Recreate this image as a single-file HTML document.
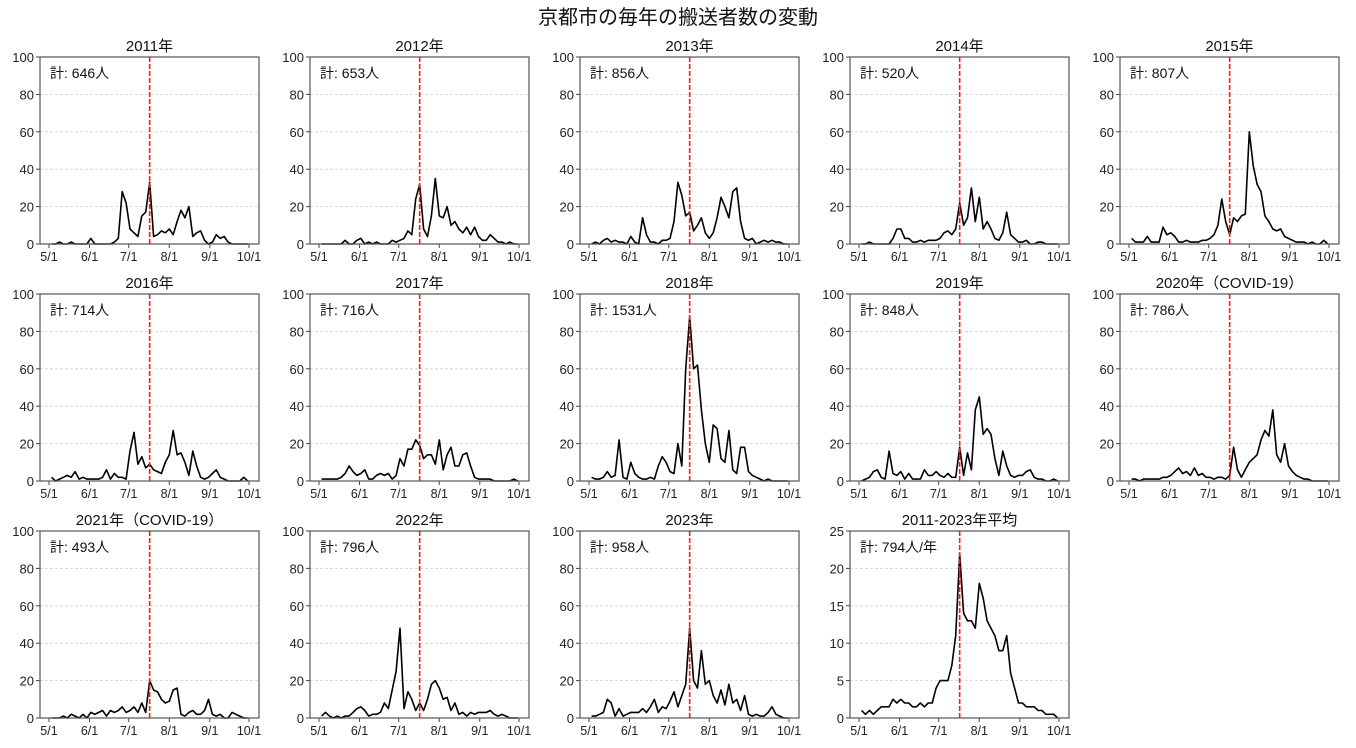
<!DOCTYPE html>
<html><head><meta charset="utf-8">
<style>
body{margin:0;background:#fff;}
svg{display:block;font-family:"Liberation Sans","Noto Sans CJK JP",sans-serif;}
</style></head>
<body>
<svg id="fig" width="1356" height="748" viewBox="0 0 1356 748" xmlns="http://www.w3.org/2000/svg">
<text x="678" y="24" font-size="20" text-anchor="middle" fill="#111">京都市の毎年の搬送者数の変動</text>
</svg>
<script>
// samples at day 2,5,8,...,152 (day 0 = May 1)
const sampleStart = 2, sampleStep = 3;
const titles = ["2011年","2012年","2013年","2014年","2015年","2016年","2017年","2018年","2019年","2020年（COVID-19）","2021年（COVID-19）","2022年","2023年","2011-2023年平均"];
const totals = ["計: 646人","計: 653人","計: 856人","計: 520人","計: 807人","計: 714人","計: 716人","計: 1531人","計: 848人","計: 786人","計: 493人","計: 796人","計: 958人","計: 794人/年"];
const yMaxes = [100,100,100,100,100,100,100,100,100,100,100,100,100,25];
const yTicks100 = [0,20,40,60,80,100];
const yTicks25 = [0,5,10,15,20,25];
const xTickDays = [0,31,61,92,123,153];
const xTickLabels = ["5/1","6/1","7/1","8/1","9/1","10/1"];
const markerDay = 77;
const s2011 = [0,0,1,0,0,1,0,0,0,0, 3,0,0,0,0,0,1,3,28,22, 8,6,4,15,17,33,4,5,7,6, 8,5,12,18,14,20,4,6,7,2, 0,1,5,3,4,1,0,0,0,0,0];
const s2012 = [0,0,0,0,0,0,2,0,0,2, 3,0,1,0,1,0,0,0,2,1, 2,3,7,5,24,32,8,4,15,35, 15,14,20,10,12,8,6,9,5,9, 4,2,2,5,3,1,1,0,1,0,0];
const s2013 = [0,1,0,2,3,1,2,1,1,0, 4,1,0,14,5,1,1,0,2,2, 3,12,33,26,15,17,7,10,14,6, 3,6,14,25,20,14,28,30,12,3, 2,3,0,1,2,1,2,1,1,0,0];
const s2014 = [0,0,1,0,0,0,0,0,3,8, 8,3,3,1,1,2,1,2,2,2, 3,6,7,5,8,22,10,14,30,12, 25,8,12,8,3,2,6,17,5,3, 1,1,2,0,0,1,1,0,0,0,0];
const s2015 = [3,1,1,1,4,1,1,1,9,5, 6,4,1,1,2,1,1,1,2,2, 3,5,10,24,12,5,14,12,15,16, 60,42,32,28,15,12,8,7,8,4, 3,2,1,1,1,0,1,0,0,2,0];
const s2016 = [2,0,1,2,3,2,5,1,2,1, 1,1,1,2,6,1,4,2,2,1, 16,26,9,13,7,9,6,5,4,10, 14,27,14,15,10,3,16,8,2,1, 2,4,6,2,1,0,0,0,0,2,0];
const s2017 = [1,1,1,1,1,2,4,8,5,3, 4,6,1,1,3,4,3,4,1,3, 12,8,17,17,22,19,12,14,14,9, 22,6,14,18,8,8,14,15,8,2, 1,1,1,1,0,0,0,0,0,1,0];
const s2018 = [2,1,1,2,5,2,3,22,2,1, 10,4,2,1,1,2,1,8,13,10, 5,4,20,8,60,88,60,62,38,20, 10,30,28,12,10,27,6,4,18,18, 5,3,2,1,0,1,0,0,0,0,0];
const s2019 = [0,1,2,5,6,2,1,16,4,3, 5,1,4,1,1,1,6,3,3,5, 3,2,4,2,2,18,3,15,6,38, 45,25,28,25,12,3,16,8,3,2, 3,3,5,6,2,1,1,0,0,1,0];
const s2020 = [1,1,0,1,1,1,1,1,2,2, 3,5,7,4,5,3,7,3,4,2, 2,1,2,2,1,3,18,6,2,6, 10,12,14,22,27,24,38,14,10,20, 8,5,3,2,1,1,0,0,0,0,0];
const s2021 = [0,0,0,1,0,2,1,0,2,0, 3,2,3,4,1,4,3,4,6,3, 4,6,3,8,3,20,15,14,10,8, 9,15,16,2,1,3,4,2,2,4, 10,2,1,2,0,0,3,2,1,0,0];
const s2022 = [1,3,1,0,1,0,1,1,3,5, 6,4,1,2,2,3,8,5,15,25, 48,5,14,10,4,8,4,10,18,20, 16,10,11,4,8,2,3,1,3,2, 3,3,3,4,2,1,2,1,0,0,0];
const s2023 = [1,1,2,3,10,8,1,5,1,2, 3,3,3,5,3,6,10,3,6,5, 9,14,6,12,18,48,20,16,36,18, 20,12,8,15,7,18,8,10,4,12, 2,1,2,1,1,3,6,2,1,0,0];
const sAvg = [1,0.5,1,0.5,1,1.5,1.5,1.5,2.5,2, 2.5,2,2,1.5,1.5,2,1.5,2,2,4, 5,5,5,7,11,22,14,13,13,12, 18,16,13,12,11,9,9,11,6,4, 2,2,1.5,1.5,1.5,1,1,0.5,0.5,0.5,0];
const seriesList = [s2011,s2012,s2013,s2014,s2015,s2016,s2017,s2018,s2019,s2020,s2021,s2022,s2023,sAvg];

const NS = "http://www.w3.org/2000/svg";
const fig = document.getElementById('fig');
function mk(tag, attrs, parent){const e=document.createElementNS(NS,tag);for(const k in attrs)e.setAttribute(k,attrs[k]);parent.appendChild(e);return e;}
const colLeft=[40,310,580,850,1120], rowTop=[57,294,531], W=219, H=187;

seriesList.forEach((vals, p)=>{
  const L=colLeft[p%5], T=rowTop[Math.floor(p/5)], B=T+H, R=L+W;
  const ymax=yMaxes[p];
  const xs=d=>L+9+d*200/153;
  const ys=v=>B-v/ymax*H;
  const g=mk('g',{},fig);
  
  
  const ticks = ymax===25?yTicks25:yTicks100;
  ticks.forEach(t=>{
    if(t>0&&t<ymax){const gl=mk('line',{x1:L,x2:R,y1:ys(t),y2:ys(t),stroke:'#d0d0d0','stroke-width':0.8,'stroke-dasharray':'3,2'},g);
      
      }
    mk('line',{x1:L-4,x2:L,y1:ys(t),y2:ys(t),stroke:'#444'},g);
    const tl=mk('text',{x:L-6,y:ys(t)+5,'font-size':13,'text-anchor':'end',fill:'#222'},g);
    tl.textContent=t;
    
    
  });
  xTickDays.forEach((d,i)=>{
    mk('line',{x1:xs(d),x2:xs(d),y1:B,y2:B+4,stroke:'#444'},g);
    const tl=mk('text',{x:xs(d),y:B+17,'font-size':12.5,'text-anchor':'middle',fill:'#222'},g);
    tl.textContent=xTickLabels[i];
    
    
  });
  const pts=vals.map((v,i)=>xs(sampleStart+i*sampleStep).toFixed(1)+','+ys(v).toFixed(1)).join(' ');
  const pl=mk('polyline',{points:pts,fill:'none',stroke:'#000','stroke-width':1.6,'stroke-linejoin':'round'},g);
  
  
  const ml=mk('line',{x1:xs(markerDay),x2:xs(markerDay),y1:T,y2:B,stroke:'#ff1a1a','stroke-width':1.6,'stroke-dasharray':'5,2'},g);
  
  
  const fr=mk('rect',{x:L,y:T,width:W,height:H,fill:'none',stroke:'#555','stroke-width':1.2},g);
  
  
  const tt=mk('text',{x:L+W/2,y:T-6,'font-size':15,'text-anchor':'middle',fill:'#111'},g);
  tt.textContent=titles[p];
  
  
  const an=mk('text',{x:L+10,y:T+21,'font-size':14,fill:'#111'},g);
  an.textContent=totals[p];
  
  
});
</script>
</body></html>
